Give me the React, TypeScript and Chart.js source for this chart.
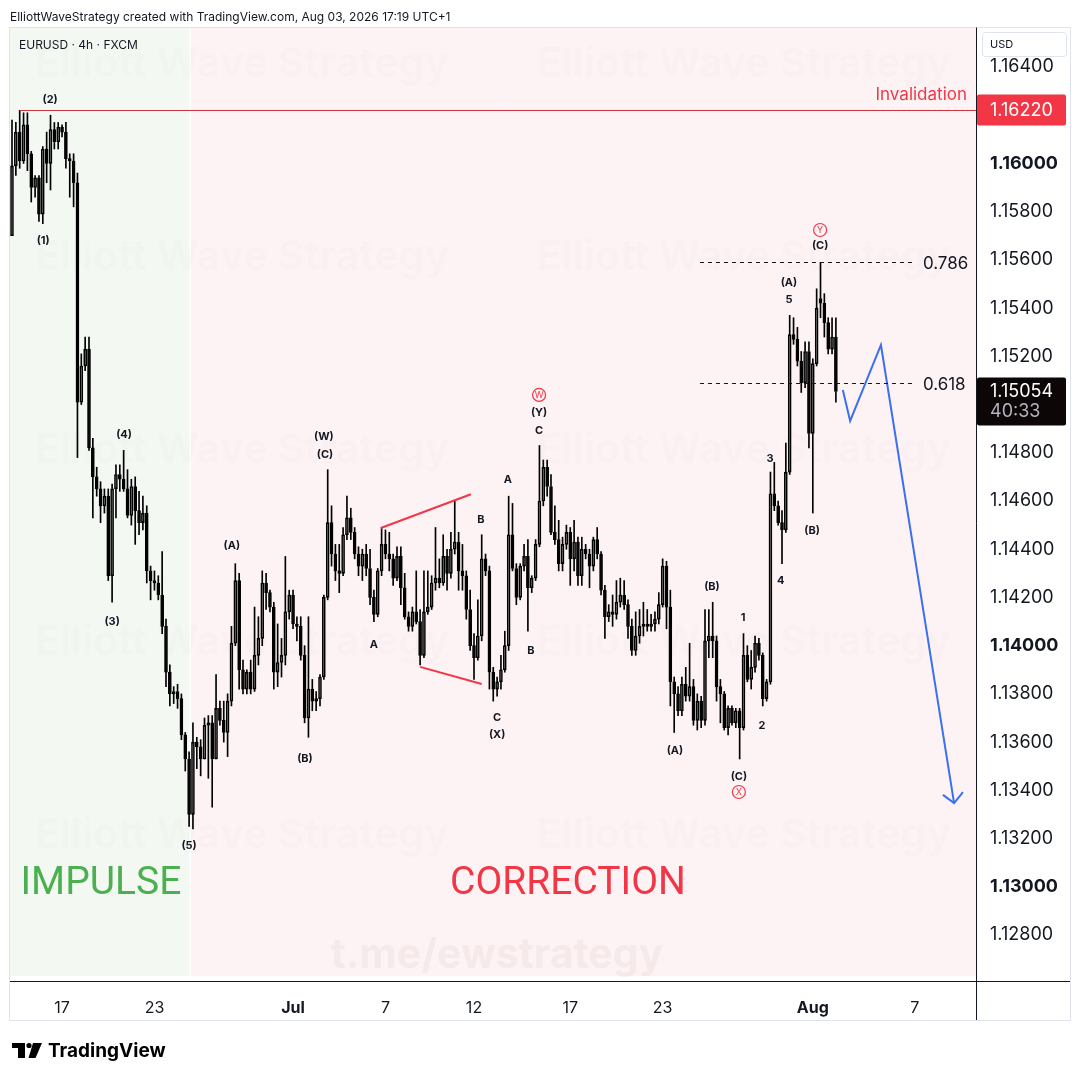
import React, { useEffect, useRef } from "react";
import { Chart, registerables } from "chart.js";
Chart.register(...registerables);

// ---- DATA: 4h EURUSD candles [open, high, low, close] ----
const ohlc: number[][] = [
  [1.1570, 1.1618, 1.1570, 1.1599], [1.1599, 1.1617, 1.1595, 1.1613], [1.1613, 1.1622, 1.1598, 1.1601], [1.1601, 1.1621, 1.1600, 1.1616],
  [1.1616, 1.1621, 1.1597, 1.1604], [1.1604, 1.1605, 1.1584, 1.1590], [1.1590, 1.1595, 1.1586, 1.1594], [1.1594, 1.1595, 1.1576, 1.1579],
  [1.1579, 1.1607, 1.1575, 1.1606], [1.1606, 1.1613, 1.1592, 1.1600], [1.1600, 1.1620, 1.1589, 1.1614], [1.1614, 1.1617, 1.1606, 1.1609],
  [1.1609, 1.1617, 1.1606, 1.1615], [1.1615, 1.1616, 1.1611, 1.1613], [1.1613, 1.1617, 1.1598, 1.1602], [1.1602, 1.1604, 1.1586, 1.1601],
  [1.1601, 1.1604, 1.1582, 1.1592], [1.1592, 1.1596, 1.1478, 1.1501], [1.1501, 1.1521, 1.1500, 1.1516], [1.1516, 1.1528, 1.1514, 1.1523],
  [1.1523, 1.1528, 1.1481, 1.1482], [1.1482, 1.1486, 1.1453, 1.1470], [1.1470, 1.1474, 1.1462, 1.1465], [1.1465, 1.1468, 1.1451, 1.1458],
  [1.1458, 1.1465, 1.1455, 1.1462], [1.1462, 1.1465, 1.1427, 1.1429], [1.1429, 1.1467, 1.1418, 1.1465], [1.1465, 1.1475, 1.1453, 1.1471],
  [1.1471, 1.1475, 1.1464, 1.1469], [1.1469, 1.1481, 1.1464, 1.1465], [1.1465, 1.1473, 1.1453, 1.1454], [1.1454, 1.1469, 1.1450, 1.1466],
  [1.1466, 1.1470, 1.1442, 1.1456], [1.1456, 1.1464, 1.1446, 1.1451], [1.1451, 1.1462, 1.1448, 1.1455], [1.1455, 1.1458, 1.1426, 1.1431],
  [1.1431, 1.1433, 1.1419, 1.1427], [1.1427, 1.1431, 1.1423, 1.1426], [1.1426, 1.1429, 1.1419, 1.1421], [1.1421, 1.1439, 1.1405, 1.1408],
  [1.1408, 1.1411, 1.1383, 1.1389], [1.1389, 1.1392, 1.1375, 1.1380], [1.1380, 1.1383, 1.1376, 1.1381], [1.1381, 1.1384, 1.1374, 1.1378],
  [1.1378, 1.1380, 1.1361, 1.1363], [1.1363, 1.1364, 1.1348, 1.1353], [1.1353, 1.1356, 1.1325, 1.1330], [1.1330, 1.1368, 1.1324, 1.1360],
  [1.1360, 1.1362, 1.1349, 1.1358], [1.1358, 1.1361, 1.1346, 1.1353], [1.1353, 1.1370, 1.1353, 1.1367], [1.1367, 1.1371, 1.1345, 1.1368],
  [1.1368, 1.1371, 1.1333, 1.1353], [1.1353, 1.1388, 1.1353, 1.1374], [1.1374, 1.1377, 1.1367, 1.1369], [1.1369, 1.1377, 1.1360, 1.1364],
  [1.1364, 1.1380, 1.1354, 1.1377], [1.1377, 1.1408, 1.1375, 1.1401], [1.1401, 1.1434, 1.1400, 1.1427], [1.1427, 1.1430, 1.1382, 1.1390],
  [1.1390, 1.1394, 1.1380, 1.1382], [1.1382, 1.1390, 1.1380, 1.1389], [1.1389, 1.1394, 1.1380, 1.1382], [1.1382, 1.1416, 1.1381, 1.1396],
  [1.1396, 1.1412, 1.1392, 1.1403], [1.1403, 1.1431, 1.1400, 1.1426], [1.1426, 1.1430, 1.1415, 1.1422], [1.1422, 1.1423, 1.1414, 1.1416],
  [1.1416, 1.1418, 1.1382, 1.1389], [1.1389, 1.1409, 1.1383, 1.1393], [1.1393, 1.1403, 1.1387, 1.1396], [1.1396, 1.1437, 1.1392, 1.1414],
  [1.1414, 1.1423, 1.1411, 1.1421], [1.1421, 1.1423, 1.1407, 1.1409], [1.1409, 1.1412, 1.1402, 1.1408], [1.1408, 1.1412, 1.1394, 1.1396],
  [1.1396, 1.1400, 1.1368, 1.1370], [1.1370, 1.1412, 1.1362, 1.1382], [1.1382, 1.1386, 1.1373, 1.1377], [1.1377, 1.1381, 1.1373, 1.1378],
  [1.1378, 1.1388, 1.1375, 1.1387], [1.1387, 1.1421, 1.1386, 1.1420], [1.1420, 1.1473, 1.1419, 1.1451], [1.1451, 1.1458, 1.1433, 1.1438],
  [1.1438, 1.1442, 1.1427, 1.1431], [1.1431, 1.1442, 1.1422, 1.1430], [1.1430, 1.1449, 1.1429, 1.1446], [1.1446, 1.1462, 1.1444, 1.1453],
  [1.1453, 1.1457, 1.1444, 1.1447], [1.1447, 1.1449, 1.1436, 1.1438], [1.1438, 1.1441, 1.1429, 1.1433], [1.1433, 1.1440, 1.1427, 1.1438],
  [1.1438, 1.1442, 1.1429, 1.1432], [1.1432, 1.1440, 1.1417, 1.1420], [1.1420, 1.1423, 1.1410, 1.1413], [1.1413, 1.1432, 1.1412, 1.1431],
  [1.1431, 1.1449, 1.1429, 1.1442], [1.1442, 1.1448, 1.1436, 1.1438], [1.1438, 1.1447, 1.1431, 1.1436], [1.1436, 1.1438, 1.1425, 1.1428],
  [1.1428, 1.1441, 1.1427, 1.1437], [1.1437, 1.1441, 1.1417, 1.1424], [1.1424, 1.1430, 1.1411, 1.1412], [1.1412, 1.1414, 1.1406, 1.1408],
  [1.1408, 1.1416, 1.1406, 1.1414], [1.1414, 1.1431, 1.1409, 1.1410], [1.1410, 1.1415, 1.1392, 1.1396], [1.1396, 1.1431, 1.1395, 1.1414],
  [1.1414, 1.1431, 1.1413, 1.1416], [1.1416, 1.1429, 1.1415, 1.1426], [1.1426, 1.1449, 1.1423, 1.1428], [1.1428, 1.1436, 1.1424, 1.1426],
  [1.1426, 1.1446, 1.1425, 1.1437], [1.1437, 1.1440, 1.1423, 1.1430], [1.1430, 1.1447, 1.1428, 1.1440], [1.1440, 1.1460, 1.1438, 1.1443],
  [1.1443, 1.1447, 1.1423, 1.1431], [1.1431, 1.1442, 1.1423, 1.1429], [1.1429, 1.1431, 1.1411, 1.1415], [1.1415, 1.1423, 1.1398, 1.1400],
  [1.1400, 1.1405, 1.1386, 1.1395], [1.1395, 1.1419, 1.1394, 1.1404], [1.1404, 1.1446, 1.1402, 1.1436], [1.1436, 1.1438, 1.1429, 1.1431],
  [1.1431, 1.1433, 1.1382, 1.1389], [1.1389, 1.1391, 1.1377, 1.1382], [1.1382, 1.1387, 1.1379, 1.1385], [1.1385, 1.1396, 1.1382, 1.1390],
  [1.1390, 1.1406, 1.1389, 1.1400], [1.1400, 1.1462, 1.1398, 1.1446], [1.1446, 1.1459, 1.1431, 1.1432], [1.1432, 1.1434, 1.1417, 1.1420],
  [1.1420, 1.1434, 1.1419, 1.1433], [1.1433, 1.1442, 1.1431, 1.1437], [1.1437, 1.1444, 1.1406, 1.1424], [1.1424, 1.1429, 1.1422, 1.1428],
  [1.1428, 1.1444, 1.1427, 1.1442], [1.1442, 1.1483, 1.1441, 1.1460], [1.1460, 1.1477, 1.1458, 1.1474], [1.1474, 1.1477, 1.1462, 1.1466],
  [1.1466, 1.1471, 1.1446, 1.1447], [1.1447, 1.1458, 1.1442, 1.1444], [1.1444, 1.1452, 1.1431, 1.1434], [1.1434, 1.1445, 1.1431, 1.1442],
  [1.1442, 1.1450, 1.1440, 1.1447], [1.1447, 1.1449, 1.1425, 1.1436], [1.1436, 1.1452, 1.1431, 1.1443], [1.1443, 1.1445, 1.1425, 1.1429],
  [1.1429, 1.1445, 1.1425, 1.1440], [1.1440, 1.1442, 1.1436, 1.1438], [1.1438, 1.1440, 1.1424, 1.1433], [1.1433, 1.1445, 1.1431, 1.1444],
  [1.1444, 1.1449, 1.1436, 1.1438], [1.1438, 1.1439, 1.1421, 1.1423], [1.1423, 1.1425, 1.1403, 1.1412], [1.1412, 1.1417, 1.1410, 1.1414],
  [1.1414, 1.1421, 1.1408, 1.1413], [1.1413, 1.1427, 1.1411, 1.1418], [1.1418, 1.1428, 1.1416, 1.1421], [1.1421, 1.1427, 1.1415, 1.1417],
  [1.1417, 1.1419, 1.1403, 1.1408], [1.1408, 1.1411, 1.1396, 1.1398], [1.1398, 1.1414, 1.1396, 1.1404], [1.1404, 1.1415, 1.1401, 1.1408],
  [1.1408, 1.1418, 1.1404, 1.1409], [1.1409, 1.1415, 1.1406, 1.1408], [1.1408, 1.1413, 1.1406, 1.1409], [1.1409, 1.1414, 1.1406, 1.1411],
  [1.1411, 1.1422, 1.1409, 1.1417], [1.1417, 1.1436, 1.1416, 1.1433], [1.1433, 1.1435, 1.1407, 1.1416], [1.1416, 1.1423, 1.1375, 1.1385],
  [1.1385, 1.1387, 1.1364, 1.1380], [1.1380, 1.1383, 1.1371, 1.1373], [1.1373, 1.1387, 1.1371, 1.1384], [1.1384, 1.1391, 1.1377, 1.1379],
  [1.1379, 1.1401, 1.1377, 1.1383], [1.1383, 1.1386, 1.1367, 1.1369], [1.1369, 1.1380, 1.1365, 1.1377], [1.1377, 1.1379, 1.1366, 1.1369],
  [1.1369, 1.1415, 1.1367, 1.1402], [1.1402, 1.1415, 1.1395, 1.1404], [1.1404, 1.1418, 1.1395, 1.1402], [1.1402, 1.1404, 1.1377, 1.1383],
  [1.1383, 1.1386, 1.1368, 1.1380], [1.1380, 1.1381, 1.1365, 1.1366], [1.1366, 1.1375, 1.1363, 1.1374], [1.1374, 1.1375, 1.1367, 1.1368],
  [1.1368, 1.1374, 1.1366, 1.1373], [1.1373, 1.1374, 1.1353, 1.1366], [1.1366, 1.1405, 1.1365, 1.1396], [1.1396, 1.1400, 1.1385, 1.1386],
  [1.1386, 1.1398, 1.1382, 1.1391], [1.1391, 1.1404, 1.1389, 1.1401], [1.1401, 1.1403, 1.1394, 1.1396], [1.1396, 1.1397, 1.1375, 1.1378],
  [1.1378, 1.1386, 1.1377, 1.1385], [1.1385, 1.1472, 1.1384, 1.1463], [1.1463, 1.1476, 1.1456, 1.1458], [1.1458, 1.1460, 1.1450, 1.1451],
  [1.1451, 1.1456, 1.1434, 1.1448], [1.1448, 1.1484, 1.1447, 1.1472], [1.1472, 1.1537, 1.1471, 1.1529], [1.1529, 1.1536, 1.1525, 1.1527],
  [1.1527, 1.1532, 1.1516, 1.1518], [1.1518, 1.1522, 1.1505, 1.1509], [1.1509, 1.1526, 1.1507, 1.1522], [1.1522, 1.1526, 1.1482, 1.1488],
  [1.1488, 1.1519, 1.1455, 1.1517], [1.1517, 1.1548, 1.1516, 1.1540], [1.1544, 1.1559, 1.1536, 1.1542], [1.1542, 1.1546, 1.1528, 1.1534],
  [1.1534, 1.1536, 1.1521, 1.1523], [1.1523, 1.1536, 1.1521, 1.1528], [1.1528, 1.1536, 1.1501, 1.15054],
];

// ---- Axes ----
const X_MIN = -0.52;
const X_MAX = 250.39;
const Y_MIN = 1.126092;
const Y_MAX = 1.165617;
const priceTicks = [1.128, 1.13, 1.132, 1.134, 1.136, 1.138, 1.14, 1.142, 1.144, 1.146, 1.148, 1.15, 1.152, 1.154, 1.156, 1.158, 1.16, 1.162, 1.164];
const boldPrices = [1.13, 1.14, 1.16];
const dateTickIdx = [13, 37, 73, 97, 120, 145, 169, 208, 234.5];
const dateTickLabels = ["17", "23", "Jul", "7", "12", "17", "23", "Aug", "7"];
const boldDates = ["Jul", "Aug"];

// ---- Drawings ----
const impulseRange = [-0.52, 46.1];
const correctionRange = [46.45, 250.39];
const regionBottom = 1.1263;
const invalidationPrice = 1.1622;
const invalidationStartIdx = 2.1;
const invalidationTextIdx = 248.05;
const invalidationTextPrice = 1.16284;
const lastPrice = 1.15054;
const countdown = "40:33";
const fibLabels = ["0.786", "0.618"];
const fibPrices = [1.15591, 1.15089];
const fibRange = [178.7, 233.8];
const fibLabelIdx = 236.6;

const projIdx = [215.8, 217.7, 225.7, 244.7];
const projPrice = [1.1506, 1.14932, 1.15247, 1.13347];
const arrowIdx = [241.8, 244.7, 247.0];
const arrowPrice = [1.13381, 1.13347, 1.13393];
const triUpperIdx = [95.8, 119.2];
const triUpperPrice = [1.14488, 1.14628];
const triLowerIdx = [106, 122];
const triLowerPrice = [1.13912, 1.13841];

const waveText = ["(2)", "(1)", "(4)", "(3)", "(5)", "(A)", "(B)", "(W)", "(C)", "A", "B", "C", "(X)", "A", "B", "C", "(Y)", "(A)", "(B)", "(C)", "1", "2", "3", "4", "(A)", "5", "(B)", "(C)"];
const waveIdx = [9.9, 8.1, 29.1, 26.0, 46.0, 57.1, 76.1, 81.0, 81.3, 94.0, 121.8, 126.0, 126.0, 128.8, 134.8, 136.9, 136.9, 172.2, 181.8, 188.8, 189.9, 194.8, 196.9, 199.7, 201.8, 201.8, 207.8, 209.9];
const wavePrice = [1.16263, 1.15678, 1.14874, 1.14098, 1.13169, 1.14413, 1.1353, 1.14865, 1.14791, 1.14003, 1.14521, 1.137, 1.13629, 1.14687, 1.13978, 1.1489, 1.14965, 1.13563, 1.14243, 1.13455, 1.14115, 1.13667, 1.14774, 1.14268, 1.15504, 1.15434, 1.14476, 1.15658];
const circleText = ["W", "X", "Y"];
const circleIdx = [136.9, 188.8, 209.9];
const circlePrice = [1.1504, 1.13393, 1.15724];

const phaseText = ["IMPULSE", "CORRECTION"];
const phaseIdx = [2.2, 144.4];
const phasePrice = [1.1303, 1.1303];
const phaseColor = ["#4caf50", "#f23645"];
const phaseAlign = ["left", "center"];

const FONT = "Inter, 'Noto Sans', sans-serif";
const TEXT = "#131722";
const RED = "#f23645";
const BLUE = "#3b6ff0";

const near = (a: number, b: number) => Math.abs(a - b) < 1e-7;

function roundRect(ctx: CanvasRenderingContext2D, x: number, y: number, w: number, h: number, r: number) {
  ctx.beginPath();
  ctx.moveTo(x + r, y);
  ctx.lineTo(x + w - r, y);
  ctx.quadraticCurveTo(x + w, y, x + w, y + r);
  ctx.lineTo(x + w, y + h - r);
  ctx.quadraticCurveTo(x + w, y + h, x + w - r, y + h);
  ctx.lineTo(x + r, y + h);
  ctx.quadraticCurveTo(x, y + h, x, y + h - r);
  ctx.lineTo(x, y + r);
  ctx.quadraticCurveTo(x, y, x + r, y);
  ctx.closePath();
}

const overlayPlugin = {
  id: "overlay",
  beforeDraw(chart: any) {
    const { ctx, width, height } = chart;
    ctx.save();
    ctx.fillStyle = "#ffffff";
    ctx.fillRect(0, 0, width, height);
    ctx.restore();
  },
  beforeDatasetsDraw(chart: any) {
    const { ctx, chartArea: a } = chart;
    const x = chart.scales.x;
    const y = chart.scales.y;
    ctx.save();
    ctx.beginPath();
    ctx.rect(a.left, a.top, a.right - a.left, a.bottom - a.top);
    ctx.clip();
    const yb = y.getPixelForValue(regionBottom);
    const g0 = x.getPixelForValue(impulseRange[0]);
    const g1 = x.getPixelForValue(impulseRange[1]);
    ctx.fillStyle = "#f3f8f3";
    ctx.fillRect(g0, a.top, g1 - g0, yb - a.top);
    const p0 = x.getPixelForValue(correctionRange[0]);
    const p1 = x.getPixelForValue(correctionRange[1]);
    ctx.fillStyle = "#fdf3f4";
    ctx.fillRect(p0, a.top, p1 - p0, yb - a.top);
    // watermarks
    ctx.font = `bold 41px ${FONT}`;
    ctx.textAlign = "center";
    ctx.textBaseline = "middle";
    ctx.fillStyle = "rgba(0,0,0,0.013)";
    const rows = [65, 258, 451, 643, 836];
    const cols = [242, 744];
    rows.forEach((ry) => cols.forEach((cx) => ctx.fillText("Elliott Wave Strategy", cx, ry)));
    ctx.fillStyle = "rgba(150,110,115,0.08)";
    ctx.fillText("t.me/ewstrategy", 497, 956);
    ctx.restore();
  },
  afterDatasetsDraw(chart: any) {
    const { ctx, chartArea: a } = chart;
    const x = chart.scales.x;
    const y = chart.scales.y;
    ctx.save();
    ctx.beginPath();
    ctx.rect(a.left, a.top, a.right - a.left, a.bottom - a.top);
    ctx.clip();
    // invalidation
    const iy = Math.round(y.getPixelForValue(invalidationPrice)) + 0.5;
    ctx.strokeStyle = "#c9363e";
    ctx.lineWidth = 1;
    ctx.beginPath();
    ctx.moveTo(x.getPixelForValue(invalidationStartIdx), iy);
    ctx.lineTo(a.right, iy);
    ctx.stroke();
    ctx.font = `17px ${FONT}`;
    ctx.fillStyle = RED;
    ctx.textAlign = "right";
    ctx.textBaseline = "middle";
    ctx.fillText("Invalidation", x.getPixelForValue(invalidationTextIdx), y.getPixelForValue(invalidationTextPrice));
    // fib lines
    ctx.setLineDash([4, 4]);
    ctx.strokeStyle = TEXT;
    fibPrices.forEach((p, k) => {
      const fy = Math.round(y.getPixelForValue(p)) + 0.5;
      ctx.beginPath();
      ctx.moveTo(x.getPixelForValue(fibRange[0]), fy);
      ctx.lineTo(x.getPixelForValue(fibRange[1]), fy);
      ctx.stroke();
      ctx.fillStyle = TEXT;
      ctx.textAlign = "left";
      ctx.font = `17px ${FONT}`;
      ctx.fillText(fibLabels[k], x.getPixelForValue(fibLabelIdx), fy + 1);
    });
    ctx.setLineDash([]);
    // wave labels
    ctx.font = `bold 11px ${FONT}`;
    ctx.fillStyle = TEXT;
    ctx.textAlign = "center";
    ctx.textBaseline = "middle";
    waveText.forEach((t, k) => {
      ctx.fillText(t, x.getPixelForValue(waveIdx[k]), y.getPixelForValue(wavePrice[k]));
    });
    // circled labels
    circleText.forEach((t, k) => {
      const cx = x.getPixelForValue(circleIdx[k]);
      const cy = y.getPixelForValue(circlePrice[k]);
      ctx.strokeStyle = RED;
      ctx.lineWidth = 1.2;
      ctx.beginPath();
      ctx.arc(cx, cy, 6.5, 0, Math.PI * 2);
      ctx.stroke();
      ctx.fillStyle = RED;
      ctx.font = `9px ${FONT}`;
      ctx.fillText(t, cx, cy + 0.5);
    });
    // phase texts
    phaseText.forEach((t, k) => {
      ctx.font = `39px Roboto, ${FONT}`;
      ctx.fillStyle = phaseColor[k];
      ctx.textAlign = phaseAlign[k] as CanvasTextAlign;
      ctx.textBaseline = "alphabetic";
      ctx.fillText(t, x.getPixelForValue(phaseIdx[k]), y.getPixelForValue(phasePrice[k]) + 14);
    });
    ctx.restore();
  },
  afterDraw(chart: any) {
    const { ctx, chartArea: a } = chart;
    const y = chart.scales.y;
    ctx.save();
    // frame
    ctx.strokeStyle = "#e0e3eb";
    ctx.lineWidth = 1;
    ctx.strokeRect(9.5, 27.5, 1061, 993);
    ctx.strokeStyle = TEXT;
    ctx.beginPath();
    ctx.moveTo(a.right + 0.5, 27.5);
    ctx.lineTo(a.right + 0.5, 1020);
    ctx.moveTo(10, a.bottom + 0.5);
    ctx.lineTo(1070, a.bottom + 0.5);
    ctx.stroke();
    // USD box
    roundRect(ctx, 982.5, 32.5, 84, 24, 3);
    ctx.fillStyle = "#ffffff";
    ctx.fill();
    ctx.strokeStyle = "#e0e3eb";
    ctx.stroke();
    ctx.fillStyle = TEXT;
    ctx.font = `11px ${FONT}`;
    ctx.textAlign = "left";
    ctx.textBaseline = "middle";
    ctx.fillText("USD", 990, 45);
    // invalidation price box
    const iy = y.getPixelForValue(invalidationPrice);
    roundRect(ctx, 977, iy - 16, 89, 31, 2);
    ctx.fillStyle = RED;
    ctx.fill();
    ctx.fillStyle = "#ffffff";
    ctx.font = `18px ${FONT}`;
    ctx.fillText(invalidationPrice.toFixed(5), 990, iy);
    // current price box
    const ly = y.getPixelForValue(lastPrice);
    roundRect(ctx, 977, ly - 14, 89, 48, 2);
    ctx.fillStyle = "#0c0606";
    ctx.fill();
    ctx.fillStyle = "#ffffff";
    ctx.fillText(lastPrice.toFixed(5), 990, ly);
    ctx.fillStyle = "#b2b5be";
    ctx.fillText(countdown, 990, ly + 20);
    // header
    ctx.fillStyle = TEXT;
    ctx.font = `12px ${FONT}`;
    ctx.fillText("ElliottWaveStrategy created with TradingView.com, Aug 03, 2026 17:19 UTC+1", 10, 17);
    ctx.font = `12px ${FONT}`;
    ctx.fillText("EURUSD · 4h · FXCM", 19, 45);
    // TradingView logo
    ctx.fillStyle = "#000000";
    ctx.fillRect(12, 1043, 13, 5);
    ctx.fillRect(18, 1043, 7, 15);
    ctx.beginPath();
    ctx.arc(29, 1045.5, 2.6, 0, Math.PI * 2);
    ctx.fill();
    ctx.beginPath();
    ctx.moveTo(33, 1043);
    ctx.lineTo(42, 1043);
    ctx.lineTo(35.5, 1058);
    ctx.lineTo(28.5, 1058);
    ctx.closePath();
    ctx.fill();
    ctx.font = `bold 19px ${FONT}`;
    ctx.textBaseline = "alphabetic";
    ctx.fillText("TradingView", 48, 1057);
    ctx.restore();
  },
};

export default function App() {
  const ref = useRef<HTMLCanvasElement | null>(null);
  useEffect(() => {
    if (!ref.current) return;
    const wickUp = ohlc.map((r, i) => ({ x: i, y: [Math.max(r[0], r[3]), r[1]] }));
    const wickDn = ohlc.map((r, i) => ({ x: i, y: [r[2], Math.min(r[0], r[3])] }));
    const bodies = ohlc.map((r, i) => ({ x: i, y: [r[0], r[3]] }));
    const bodyFill = ohlc.map((r) => (r[3] >= r[0] ? "rgba(0,0,0,0)" : "#000000"));
    const line = (xs: number[], ys: number[], color: string) => ({
      type: "line" as const,
      data: xs.map((v, k) => ({ x: v, y: ys[k] })),
      borderColor: color,
      borderWidth: 2,
      pointRadius: 0,
      tension: 0,
      fill: false,
      order: 0,
    });
    const chart = new Chart(ref.current, {
      type: "bar",
      data: {
        datasets: [
          { type: "bar", data: wickUp as any, backgroundColor: "#000", barThickness: 1, grouped: false, order: 3 } as any,
          { type: "bar", data: wickDn as any, backgroundColor: "#000", barThickness: 1, grouped: false, order: 3 } as any,
          {
            type: "bar",
            data: bodies as any,
            backgroundColor: bodyFill,
            borderColor: "#000",
            borderWidth: 1,
            borderSkipped: false,
            barThickness: 3,
            minBarLength: 1,
            grouped: false,
            order: 2,
          } as any,
          line(projIdx, projPrice, BLUE) as any,
          line(arrowIdx, arrowPrice, BLUE) as any,
          line(triUpperIdx, triUpperPrice, RED) as any,
          line(triLowerIdx, triLowerPrice, RED) as any,
        ],
      },
      options: {
        responsive: false,
        animation: false,
        devicePixelRatio: 1,
        layout: { padding: { left: 10, top: 28, right: 10, bottom: 60 } },
        plugins: { legend: { display: false }, tooltip: { enabled: false } },
        scales: {
          x: {
            type: "linear",
            min: X_MIN,
            max: X_MAX,
            offset: false,
            grid: { display: false },
            border: { display: false },
            afterBuildTicks: (s: any) => {
              s.ticks = dateTickIdx.map((v) => ({ value: v }));
            },
            afterFit: (s: any) => {
              s.height = 39;
            },
            ticks: {
              autoSkip: false,
              maxRotation: 0,
              padding: 10,
              color: TEXT,
              font: (c: any) => {
                const k = dateTickIdx.indexOf(c.tick?.value);
                const lbl = dateTickLabels[k];
                return { family: FONT, size: 16, weight: boldDates.includes(lbl) ? "bold" : "normal" };
              },
              callback: (v: any) => {
                const k = dateTickIdx.indexOf(Number(v));
                return k >= 0 ? dateTickLabels[k] : "";
              },
            },
          },
          y: {
            type: "linear",
            position: "right",
            min: Y_MIN,
            max: Y_MAX,
            grid: { display: false, drawTicks: false },
            border: { display: false },
            afterBuildTicks: (s: any) => {
              s.ticks = priceTicks.map((v) => ({ value: v }));
            },
            afterFit: (s: any) => {
              s.width = 94;
            },
            ticks: {
              padding: 14,
              color: TEXT,
              font: (c: any) => ({
                family: FONT,
                size: 18,
                weight: boldPrices.some((b) => near(b, c.tick?.value ?? 0)) ? "bold" : "normal",
              }),
              callback: (v: any) => Number(v).toFixed(5),
            },
          },
        },
      } as any,
      plugins: [overlayPlugin],
    });
    return () => chart.destroy();
  }, []);
  return (
    <div style={{ position: "absolute", left: 0, top: 0, width: 1080, height: 1080 }}>
      <canvas ref={ref} width={1080} height={1080} style={{ display: "block", width: 1080, height: 1080 }} />
    </div>
  );
}
